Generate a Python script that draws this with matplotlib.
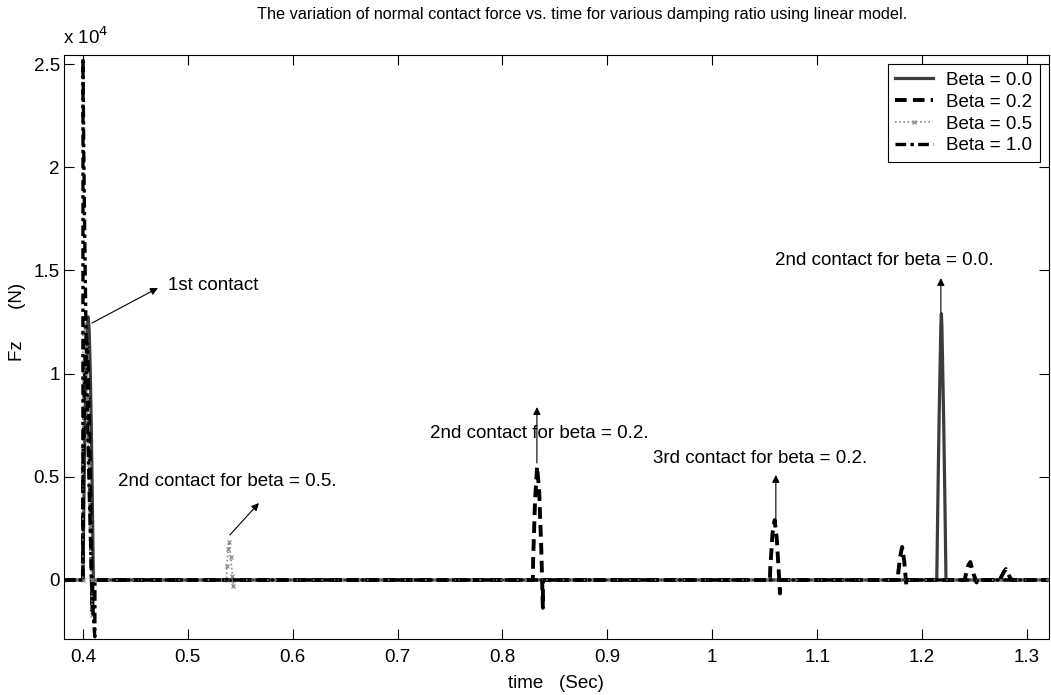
import matplotlib
matplotlib.use("Agg")
import matplotlib.pyplot as plt
from matplotlib.ticker import FixedLocator, FuncFormatter

plt.rcParams['font.family'] = ['Liberation Sans', 'DejaVu Sans']

# ---- data: normal contact force Fz (N) vs time (s) ----
t_beta00 = [0.382, 0.4000, 0.4010, 0.4020, 0.4030, 0.4040, 0.4050, 0.4060, 0.4070,
            0.4080, 0.4090, 0.4100, 1.2140, 1.2151, 1.2162, 1.2173, 1.2179, 1.2184,
            1.2189, 1.2195, 1.2206, 1.2217, 1.2228, 1.321]
f_beta00 = [0, 0, 3900, 7500, 10300, 12100, 12750, 12100, 10300,
            7500, 3900, 0, 0, 4000, 7700, 10700, 12300, 12900,
            12300, 10700, 7700, 4000, 0, 0]

t_beta02 = [0.382, 0.4000, 0.4001, 0.4012, 0.4025, 0.4035, 0.4048, 0.4060, 0.4072,
            0.4082, 0.4090, 0.4091,
            0.8290, 0.8292, 0.8310, 0.8330, 0.8350, 0.8370, 0.8385, 0.8386,
            1.0550, 1.0552, 1.0575, 1.0595, 1.0615, 1.0635, 1.0645, 1.0646,
            1.1770, 1.1772, 1.1790, 1.1810, 1.1830, 1.1850, 1.1851,
            1.2410, 1.2412, 1.2440, 1.2460, 1.2490, 1.2520, 1.2521,
            1.2740, 1.2780, 1.2800, 1.2840, 1.2860, 1.321]
f_beta02 = [0, 0, 4800, 8500, 11300, 11800, 10300, 7300, 3800,
            600, -1500, 0,
            0, 900, 3800, 5500, 4300, 1500, -1350, 0,
            0, 500, 2300, 2900, 2000, 300, -650, 0,
            0, 300, 1100, 1600, 900, -250, 0,
            0, 150, 700, 870, 300, -120, 0,
            0, 400, 530, 100, 0, 0]

t_beta05 = [0.382, 0.4000, 0.4001, 0.4012, 0.4025, 0.4040, 0.4055, 0.4068, 0.4078,
            0.4086, 0.4087,
            0.5370, 0.5372, 0.5385, 0.5395, 0.5410, 0.5425, 0.5432, 0.5433, 1.321]
f_beta05 = [0, 0, 12000, 12400, 11300, 8800, 5600, 2600, 200,
            -1700, 0,
            0, 700, 1500, 1850, 1100, 200, -300, 0, 0]

t_beta10 = [0.382, 0.4000, 0.4001, 0.4008, 0.4018, 0.4030, 0.4045, 0.4060, 0.4075,
            0.4090, 0.4105, 0.4114, 0.4115, 1.321]
f_beta10 = [0, 0, 25300, 21000, 16500, 12000, 7800, 4300, 1400,
            -900, -2200, -2750, 0, 0]

series_labels = ['Beta = 0.0', 'Beta = 0.2', 'Beta = 0.5', 'Beta = 1.0']
x_ticks = [0.4, 0.5, 0.6, 0.7, 0.8, 0.9, 1.0, 1.1, 1.2, 1.3]
y_ticks = [0, 5000, 10000, 15000, 20000, 25000]

FS = 13.5

fig = plt.figure(figsize=(10.51, 6.95), dpi=100)
ax = fig.add_axes([64 / 1051, 1 - 639 / 695, (1049 - 64) / 1051, (639 - 55) / 695])

styles = [
    dict(color='#3c3c3c', lw=2.3, ls='-'),
    dict(color='black', lw=2.8, ls=(0, (3.0, 1.6))),
    dict(color='#8a8a8a', lw=1.2, ls=(0, (1, 1.5)), marker='x', ms=3.5, mew=0.9),
    dict(color='black', lw=2.4, ls=(0, (3.2, 1.3, 1.0, 1.3))),
]
data = [(t_beta00, f_beta00), (t_beta02, f_beta02), (t_beta05, f_beta05), (t_beta10, f_beta10)]
for (tt, ff), st, lab in zip(data, styles, series_labels):
    ax.plot(tt, ff, label=lab, **st)

ax.set_xlim(0.382, 1.321)
ax.set_ylim(-2860, 25440)
ax.xaxis.set_major_locator(FixedLocator(x_ticks))
ax.yaxis.set_major_locator(FixedLocator(y_ticks))
ax.xaxis.set_major_formatter(FuncFormatter(lambda v, p: f"{v:g}"))
ax.yaxis.set_major_formatter(FuncFormatter(lambda v, p: f"{v / 1e4:g}"))
ax.tick_params(direction='in', length=7, width=0.8, top=True, right=True, labelsize=FS)
ax.tick_params(axis='x', pad=7)
ax.tick_params(axis='y', pad=3)
for sp in ax.spines.values():
    sp.set_linewidth(0.8)

ax.annotate('x 10$^4$', xy=(0, 1), xycoords='axes fraction', xytext=(-1, 5),
            textcoords='offset points', ha='left', va='bottom', fontsize=FS)

fig.text(582 / 1051, 1 - 14 / 695,
         'The variation of normal contact force vs. time for various damping ratio using linear model.',
         ha='center', va='center', fontsize=11.7,
         family=['Liberation Sans Narrow', 'Liberation Sans', 'DejaVu Sans'])
fig.text(556 / 1051, 1 - 683 / 695, 'time   (Sec)', ha='center', va='center', fontsize=FS)
fig.text(18 / 1051, 1 - 322 / 695, 'Fz      (N)', ha='center', va='center', fontsize=FS,
         rotation=90)

arrow = dict(arrowstyle='-|>', color='black', lw=0.8, mutation_scale=11, shrinkA=0, shrinkB=0)
ax.annotate('', xy=(0.4715, 14150), xytext=(0.4086, 12450), arrowprops=arrow)
ax.text(0.4810, 14290, '1st contact', fontsize=FS, ha='left', va='center')

ax.annotate('', xy=(0.5678, 3730), xytext=(0.5401, 2180), arrowprops=arrow)
ax.text(0.4334, 4750, '2nd contact for beta = 0.5.', fontsize=FS, ha='left', va='center')

ax.annotate('', xy=(0.8328, 8380), xytext=(0.8328, 5670), arrowprops=arrow)
ax.text(0.7308, 7120, '2nd contact for beta = 0.2.', fontsize=FS, ha='left', va='center')

ax.annotate('', xy=(1.0606, 5090), xytext=(1.0606, 2900), arrowprops=arrow)
ax.text(0.9434, 5910, '3rd contact for beta = 0.2.', fontsize=FS, ha='left', va='center')

ax.annotate('', xy=(1.2179, 14630), xytext=(1.2179, 12940), arrowprops=arrow)
ax.text(1.0597, 15500, '2nd contact for beta = 0.0.', fontsize=FS, ha='left', va='center')

leg = ax.legend(loc='upper right', fontsize=FS, handlelength=2.0, borderaxespad=0.5,
                fancybox=False, framealpha=1, edgecolor='black', labelspacing=0.25,
                borderpad=0.4, handletextpad=0.7)
leg.get_frame().set_linewidth(0.8)

fig.savefig('out.png', dpi=100)
